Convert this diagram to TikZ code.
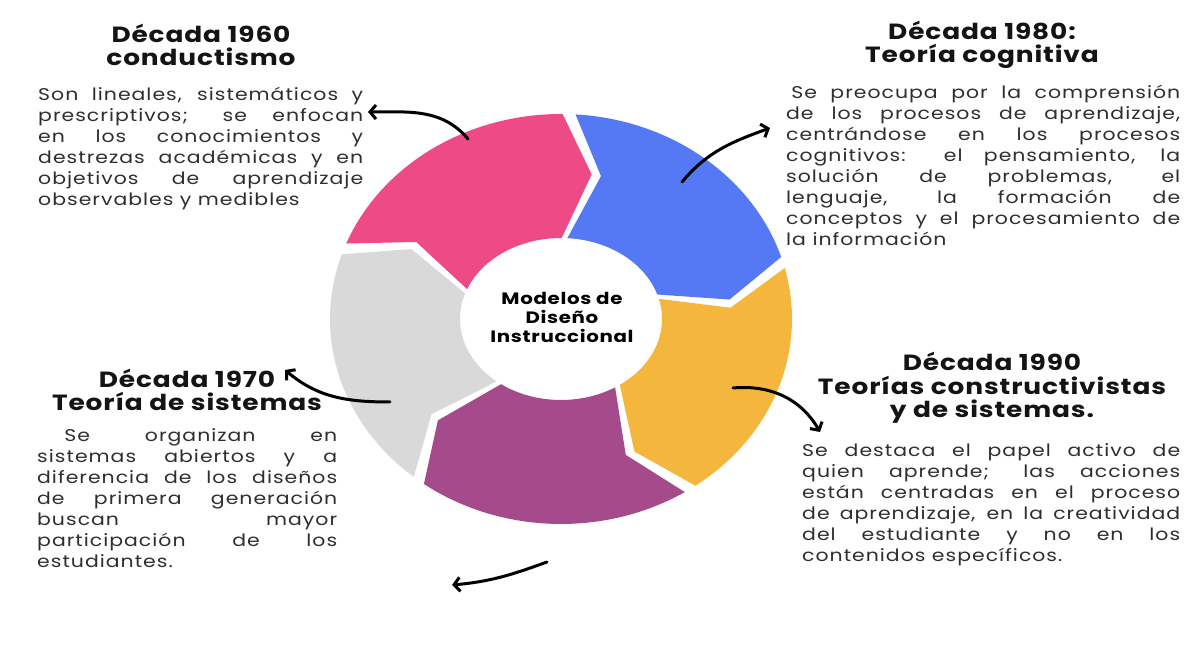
\documentclass[tikz,border=0pt]{standalone}
\usepackage{fontspec}
\setmainfont{Poppins}[FakeStretch=1.2]
\newfontfamily\bodyfam{Poppins}[FakeStretch=1.2,LetterSpace=6]
\newfontfamily\headfam{Poppins}[FakeStretch=1.2,LetterSpace=4]
\usetikzlibrary{arrows.meta,positioning}
\definecolor{segpink}{HTML}{EE4A85}
\definecolor{segblue}{HTML}{5579F5}
\definecolor{segyellow}{HTML}{F5B63D}
\definecolor{segpurple}{HTML}{A54B8B}
\definecolor{seggray}{HTML}{D9D9D9}
\newcommand{\titlefont}{\headfam\fontsize{22}{23.5}\selectfont\bfseries}
\newcommand{\bodyfont}{\bodyfam\fontsize{17}{21}\selectfont}
\newcommand{\corefont}{\headfam\fontsize{16.5}{19}\selectfont\bfseries}

\begin{document}
\begin{tikzpicture}[x=1pt,y=1pt,
  title/.style={font=\titlefont, align=center, text=black!92},
  body/.style={font=\bodyfont, align=justify, text=black!82, inner sep=0pt, anchor=north west},
  flow/.style={line width=3pt, line cap=round, -{Straight Barb[length=6pt,width=14pt]}}]
\fill[white] (0,0) rectangle (1187,652);
\useasboundingbox (0,0) rectangle (1187,652);

\begin{scope}[shift={(561,333)}]
\foreach \k/\col in {0/segpink,1/segblue,2/segyellow,3/segpurple,4/seggray}{
  \pgfmathsetmacro{\a}{160-72*\k-1.6}
  \pgfmathsetmacro{\b}{88-72*\k+1.6}
  \fill[\col] (\a:231pt and 205pt) arc[start angle=\a, end angle=\b, x radius=231pt, y radius=205pt]
    -- (\b-10:170pt and 147pt) -- (\b:101pt and 81pt)
    arc[start angle=\b, end angle=\a, x radius=101pt, y radius=81pt]
    -- (\a-10:170pt and 147pt) -- cycle;
}
\end{scope}

\node[font=\corefont, align=center] (core) at (562,335) {Modelos de\\Diseño\\Instruccional};

\node[title] (h60) at (201,607) {Década 1960\\conductismo};
\node[body, text width=325pt] (p60) at (38,565) {Son lineales, sistemáticos y\linebreak
prescriptivos; se enfocan\linebreak
en los conocimientos y\linebreak
destrezas académicas y en\linebreak
objetivos de aprendizaje\linebreak
observables y medibles};

\node[title] (h80) at (982,607) {Década 1980:\\Teoría cognitiva};
\node[body, text width=394pt] (p80) at (786,567) {\hspace*{0.3em}Se preocupa por la comprensión\linebreak
de los procesos de aprendizaje,\linebreak
centrándose en los procesos\linebreak
cognitivos: el pensamiento, la\linebreak
solución de problemas, el\linebreak
lenguaje, la formación de\linebreak
conceptos y el procesamiento de\linebreak
la información};

\node[title] (h70) at (187,262) {Década 1970\\Teoría de sistemas};
\node[body, text width=300pt] (p70) at (37,224) {\hspace*{1.6em}Se organizan en\linebreak
sistemas abiertos y a\linebreak
diferencia de los diseños\linebreak
de primera generación\linebreak
buscan mayor\linebreak
participación de los\linebreak
estudiantes.};

\node[title] (h90) at (992,264) {Década 1990\\Teorías constructivistas\\y de sistemas.};
\node[body, text width=378pt] (p90) at (802,209) {Se destaca el papel activo de\linebreak
quien aprende; las acciones\linebreak
están centradas en el proceso\linebreak
de aprendizaje, en la creatividad\linebreak
del estudiante y no en los\linebreak
contenidos específicos.};

\coordinate (s60) at (468,513);
\coordinate (e60) at (368,540);
\coordinate (s80) at (682,470);
\coordinate (e80) at (770,524);
\coordinate (s70) at (390,250);
\coordinate (e70) at (285,282);
\coordinate (s90) at (733,264);
\coordinate (e90) at (820,220);
\coordinate (s00) at (547,90);
\coordinate (e00) at (452,67);
\draw[flow] (s60) to[out=130,in=0] (e60);
\draw[flow] (s80) to[out=50,in=200] (e80);
\draw[flow] (s70) to[out=180,in=-40] (e70);
\draw[flow] (s90) to[out=5,in=120] (e90);
\draw[flow] (s00) to[out=200,in=5] (e00);
\end{tikzpicture}
\end{document}
